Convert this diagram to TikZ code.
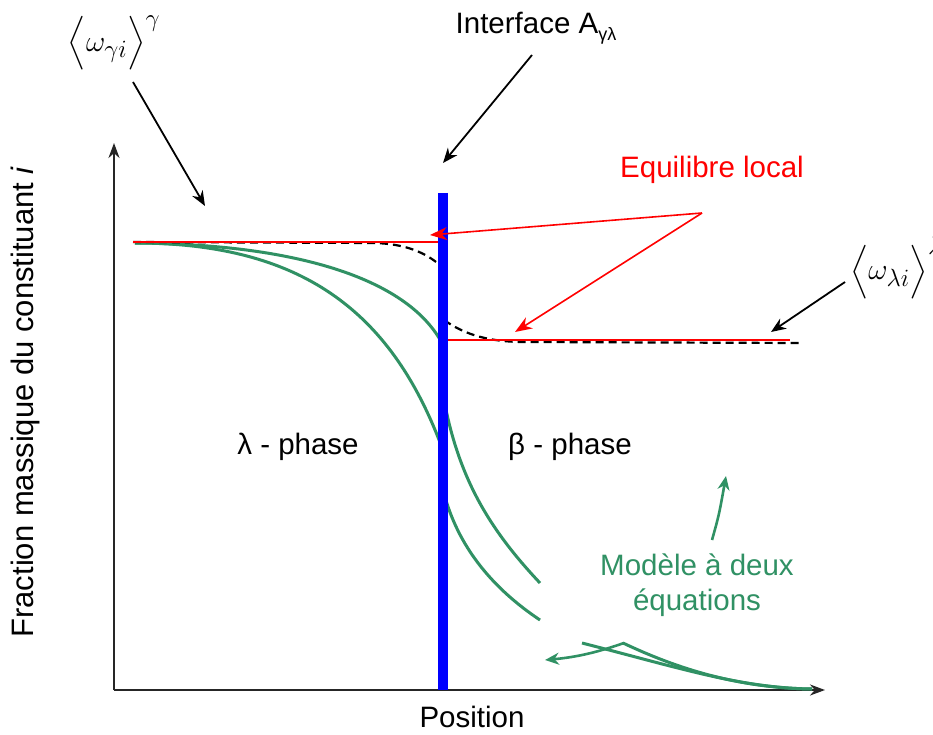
\documentclass[tikz,border=0pt]{standalone}
\usepackage{amsmath}
\usepackage{graphicx}
\usepackage{fontspec}
\setmainfont{Liberation Sans}
\usetikzlibrary{arrows.meta}
\definecolor{mgreen}{RGB}{48,145,100}
\begin{document}
\begin{tikzpicture}[x=1pt,y=-1pt,
  font=\fontsize{29.5}{35}\selectfont,
  greencurve/.style={draw=mgreen, line width=3pt},
  greenarrow/.style={draw=mgreen, line width=2.6pt, -{Stealth[length=14pt,width=12pt]}},
  redline/.style={draw=red, line width=2pt},
  redarrow/.style={draw=red, line width=1.6pt, -{Stealth[length=17pt,width=13pt]}},
  blackarrow/.style={draw=black, line width=1.8pt, -{Stealth[length=15pt,width=12pt]}},
  dashcurve/.style={draw=black, line width=2.2pt, dash pattern=on 8pt off 5pt},
  axisline/.style={draw=black!85, line width=2.2pt, -{Stealth[length=15pt,width=11pt]}},
  mathlabel/.style={font=\Huge, inner sep=0pt}]
\useasboundingbox (0,0) rectangle (933,735);
\fill[white] (0,0) rectangle (933,735);

% coordinates
\coordinate (origin) at (114,690);
\coordinate (ytip) at (114,143);
\coordinate (xtip) at (825,690);
\coordinate (barTop) at (443,193);
\coordinate (barBot) at (443,690);
\coordinate (redfork) at (702,213);
\coordinate (redtipA) at (430,235);
\coordinate (redtipB) at (515,332);
\coordinate (lgTail) at (133,82);
\coordinate (lgHead) at (205,206);
\coordinate (ifTail) at (532,55);
\coordinate (ifHead) at (443,163);
\coordinate (llTail) at (845,282);
\coordinate (llHead) at (771,332);

% axes
\draw[axisline] (origin) -- (ytip);
\draw[axisline] (origin) -- (xtip);

% green curves (two-equation model)
\draw[greencurve] (135,243) .. controls (300,244) and (410,280) .. (443,345);
\draw[greencurve] (135,243) .. controls (300,243) and (390,310) .. (441,445);
\draw[greencurve] (445,405) .. controls (460,480) and (490,530) .. (540,583);
\draw[greencurve] (445,497) .. controls (460,550) and (495,590) .. (540,620);
\draw[greencurve] (582,643) .. controls (680,668) and (740,688) .. (812,689);
\draw[greencurve] (623,643) .. controls (680,670) and (740,688) .. (812,689);
\draw[greenarrow] (624,643) .. controls (598,652) and (578,657) .. (545,660);
\draw[greenarrow] (712,540) .. controls (719,515) .. (726,476);

% dashed equilibrium profile
\draw[dashcurve] (133,242) -- (375,243) .. controls (405,244) and (425,252) .. (441,266);
\draw[dashcurve] (444,320) .. controls (465,335) and (490,342) .. (525,342) -- (800,343);

% red equilibrium lines
\draw[redline] (133,241.5) -- (441,241.5);
\draw[redline] (447,340) -- (790,340);

% interface bar
\draw[blue, line width=10pt] (barTop) -- (barBot);

% red arrows
\draw[redarrow] (redfork) -- (redtipA);
\draw[redarrow] (redfork) -- (redtipB);

% black arrows
\draw[blackarrow] (lgTail) -- (lgHead);
\draw[blackarrow] (ifTail) -- (ifHead);
\draw[blackarrow] (llTail) -- (llHead);

% labels
\node[mathlabel] (lg) at (114,43) {\scalebox{1.2}{$\Bigl\langle \omega_{\gamma i}\Bigr\rangle^{\gamma}$}};
\node[mathlabel, anchor=west] (ll) at (850,268) {\scalebox{1.2}{$\Bigl\langle \omega_{\lambda i}\Bigr\rangle^{\lambda}$}};
\node (iface) at (536,28) {Interface A\raisebox{-7pt}{\fontsize{18}{18}\selectfont γλ}};
\node[text=red] (eq) at (712,170) {Equilibre local};
\node (lph) at (298,447) {λ - phase};
\node (bph) at (570,447) {β - phase};
\node[text=mgreen, align=center] (model) at (697,585) {Modèle à deux\\équations};
\node (pos) at (472,717) {Position};
\node[rotate=90, font=\fontsize{31}{36}\selectfont] (ylab) at (25,402) {Fraction massique du constituant \textit{i}};
\end{tikzpicture}
\end{document}
